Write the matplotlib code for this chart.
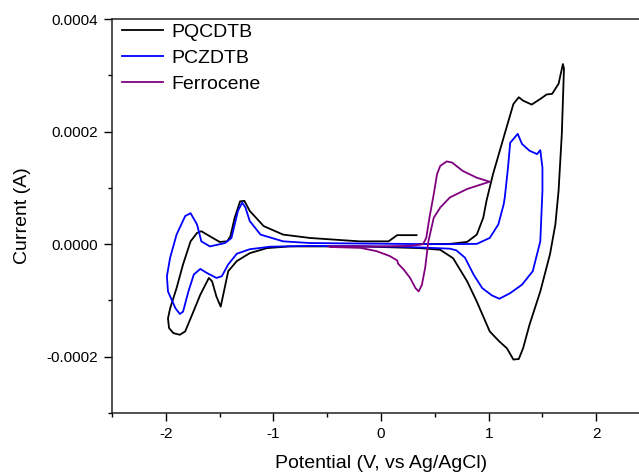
import matplotlib
matplotlib.use("Agg")
import matplotlib.pyplot as plt
import numpy as np
from matplotlib.ticker import MultipleLocator, FormatStrFormatter

plt.rcParams['font.family'] = ['Liberation Sans', 'DejaVu Sans']

# PQCDTB cyclic voltammogram (potential V, current in 1e-4 A)
pq_v = [0.33, 0.15, 0.07, -0.20, -0.66, -0.91, -1.09, -1.22, -1.27, -1.31, -1.36, -1.40, -1.43, -1.50,
        -1.59, -1.67, -1.71, -1.77, -1.84, -1.90, -1.96, -1.98, -1.97, -1.93, -1.87, -1.82, -1.77, -1.68,
        -1.60, -1.57, -1.53, -1.49, -1.46, -1.42, -1.34, -1.22, -1.06, -0.85, -0.20, 0.36, 0.55, 0.67,
        0.80, 0.89, 1.01, 1.10, 1.17, 1.23, 1.28, 1.32, 1.38, 1.48, 1.57, 1.62, 1.65, 1.68, 1.70, 1.69,
        1.65, 1.59, 1.54, 1.48, 1.40, 1.32, 1.28, 1.23, 1.14, 1.04, 0.98, 0.95, 0.89, 0.80, 0.64, 0.36]
pq_i = [0.16, 0.16, 0.05, 0.05, 0.11, 0.17, 0.32, 0.59, 0.77, 0.76, 0.47, 0.14, 0.05, 0.04,
        0.14, 0.23, 0.20, 0.05, -0.36, -0.78, -1.14, -1.32, -1.49, -1.58, -1.61, -1.55, -1.32, -0.90,
        -0.60, -0.66, -0.93, -1.11, -0.84, -0.48, -0.30, -0.16, -0.07, -0.04, -0.04, -0.07, -0.10, -0.25,
        -0.66, -1.02, -1.55, -1.73, -1.85, -2.05, -2.04, -1.85, -1.43, -0.84, -0.18, 0.35, 0.95, 1.96, 3.12, 3.20,
        2.85, 2.67, 2.66, 2.58, 2.48, 2.55, 2.61, 2.49, 1.90, 1.24, 0.77, 0.47, 0.17, 0.04, 0.005, 0.0]

# PCZDTB
cz_v = [0.46, -0.66, -0.91, -1.12, -1.22, -1.26, -1.29, -1.33, -1.39, -1.45, -1.59, -1.67, -1.71, -1.77,
        -1.82, -1.90, -1.96, -1.99, -1.98, -1.91, -1.87, -1.84, -1.79, -1.74, -1.68, -1.62, -1.53, -1.48,
        -1.42, -1.34, -1.22, -1.03, -0.66, 0.18, 0.64, 0.70, 0.78, 0.86, 0.94, 1.03, 1.10, 1.20, 1.31, 1.41,
        1.48, 1.50, 1.50, 1.48, 1.45, 1.38, 1.31, 1.27, 1.24, 1.20, 1.18, 1.15, 1.14, 1.09, 1.01, 0.89, 0.64, 0.46]
cz_i = [0.0, 0.02, 0.05, 0.17, 0.41, 0.65, 0.74, 0.59, 0.11, 0.02, -0.04, 0.05, 0.35, 0.55,
        0.50, 0.17, -0.24, -0.57, -0.84, -1.14, -1.24, -1.20, -0.84, -0.54, -0.44, -0.51, -0.60, -0.57,
        -0.36, -0.17, -0.09, -0.045, -0.03, -0.045, -0.08, -0.11, -0.24, -0.54, -0.78, -0.91, -0.97, -0.87, -0.72, -0.48,
        0.05, 0.95, 1.36, 1.67, 1.60, 1.66, 1.78, 1.96, 1.89, 1.80, 1.36, 0.83, 0.71, 0.35, 0.11, 0.005, 0.0, 0.0]

# Ferrocene
fc_v = [-0.49, -0.01, 0.27, 0.36, 0.39, 0.42, 0.45, 0.49, 0.52, 0.55, 0.61, 0.66, 0.76, 0.89, 1.01, 0.80,
        0.64, 0.55, 0.49, 0.44, 0.41, 0.38, 0.35, 0.32, 0.27, 0.21, 0.16, 0.15, 0.08, -0.04, -0.19, -0.47]
fc_i = [-0.04, -0.04, -0.03, -0.01, 0.0, 0.11, 0.47, 0.89, 1.24, 1.39, 1.47, 1.45, 1.30, 1.18, 1.11, 0.98,
        0.83, 0.65, 0.47, 0.05, -0.42, -0.72, -0.84, -0.78, -0.60, -0.45, -0.35, -0.29, -0.21, -0.125, -0.066, -0.05]

fig = plt.figure(figsize=(6.39, 4.73), dpi=100)
ax = fig.add_axes([0.1753, 0.1268, 0.842, 0.833])

ax.plot(pq_v, np.array(pq_i) * 1e-4, color='black', lw=1.3, label='PQCDTB')
ax.plot(cz_v, np.array(cz_i) * 1e-4, color='#0000ff', lw=1.3, label='PCZDTB')
ax.plot(fc_v, np.array(fc_i) * 1e-4, color='#800080', lw=1.3, label='Ferrocene')

ax.set_xlim(-2.5, 2.5)
ax.set_ylim(-0.0003, 0.0004)
ax.xaxis.set_major_locator(MultipleLocator(1))
ax.xaxis.set_minor_locator(MultipleLocator(0.5))
ax.yaxis.set_major_locator(MultipleLocator(0.0002))
ax.yaxis.set_minor_locator(MultipleLocator(0.0001))
ax.yaxis.set_major_formatter(FormatStrFormatter('%.4f'))
ax.xaxis.set_major_formatter(FormatStrFormatter('%d'))
ax.tick_params(which='major', direction='out', length=6, width=1.0, labelsize=11, pad=4)
ax.tick_params(which='minor', direction='out', length=3, width=1.0)
ax.tick_params(top=False, right=False)
for s in ['left', 'bottom', 'top']:
    ax.spines[s].set_linewidth(1.1)
    ax.spines[s].set_color('#222222')
ax.spines['right'].set_visible(False)

ax.set_xlabel('Potential (V, vs Ag/AgCl)', fontsize=14, labelpad=10)
ax.set_ylabel('Current (A)', fontsize=14, labelpad=11)

ax.legend(loc='upper left', frameon=False, fontsize=14, handlelength=2.1, handletextpad=0.45,
          labelspacing=0.42, borderaxespad=0.0, borderpad=0.0, bbox_to_anchor=(0.018, 0.989))

fig.savefig('out.png', dpi=100)
